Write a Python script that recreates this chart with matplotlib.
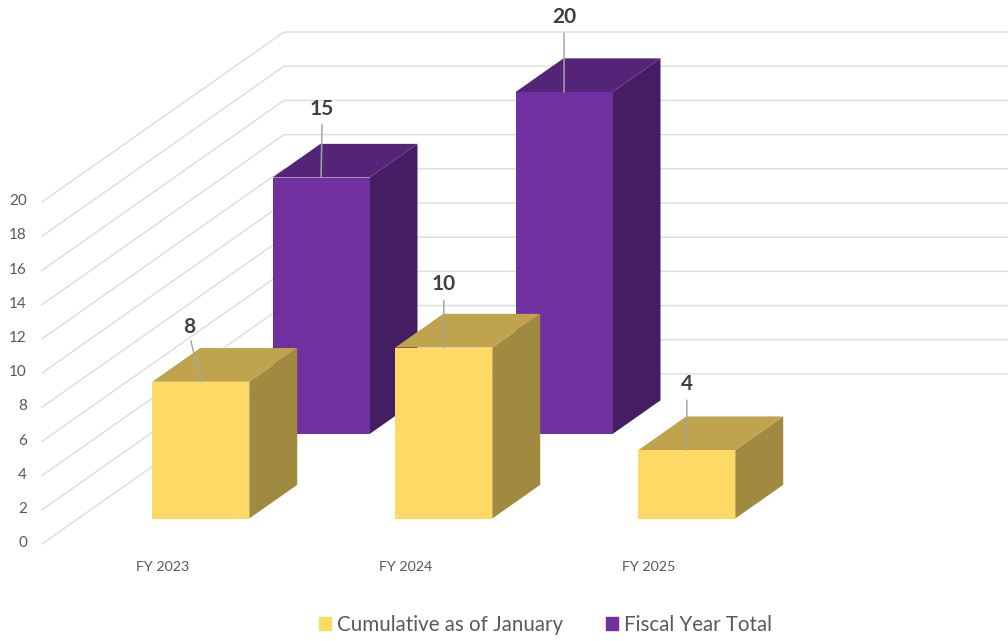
import numpy as np
import matplotlib
matplotlib.use('Agg')
import matplotlib.pyplot as plt
from matplotlib.patches import Patch

plt.rcParams['font.family'] = ['Lato', 'DejaVu Sans']

# data
years = ['FY 2023', 'FY 2024', 'FY 2025']
cumulative = [8, 10, 4]
fiscal_total = [15, 20, None]
value_ticks = np.arange(0, 21, 2)

# layout of the fake 3d box, pixels of the 1008x641 picture
W, H = 1008, 641
px_cat = 243.0    # one category
px_val = 17.1     # one unit of value
x0_px = 164.5     # FY 2023 on the front edge
y0_px = 544.0     # value 0 on the front edge
wall_dx = 242.0
wall_dy = 170.0

DX = wall_dx / px_cat
DY = wall_dy / px_val
bar_w = 97.0 / px_cat

def pr(x, v, z):
	# z = 0 front edge of floor, z = 1 back wall
	return (x + z * DX, v + z * DY)

def draw_bar(ax, i, v, z0, dz, front, top, side, zo):
	l, r = i - bar_w / 2, i + bar_w / 2
	z1 = z0 + dz
	f = [pr(l, 0, z0), pr(r, 0, z0), pr(r, v, z0), pr(l, v, z0)]
	t = [pr(l, v, z0), pr(r, v, z0), pr(r, v, z1), pr(l, v, z1)]
	s = [pr(r, 0, z0), pr(r, 0, z1), pr(r, v, z1), pr(r, v, z0)]
	ax.fill(*zip(*s), color=side, lw=0, zorder=zo)
	ax.fill(*zip(*t), color=top, lw=0, zorder=zo)
	ax.fill(*zip(*f), color=front, lw=0, zorder=zo + 0.1)

def label_bar(ax, i, v, z0, text, tdx, tdy, ldx, ldy):
	# tdx,tdy text offset, ldx,ldy where the leader stops (pixels)
	x, y = pr(i, v, z0)
	ax.annotate('', xy=(x, y), xytext=(ldx, ldy), textcoords='offset pixels',
		arrowprops=dict(arrowstyle='-', color='#a6a6a6', lw=1.1, shrinkA=0, shrinkB=0), zorder=6)
	ax.annotate(text, xy=(x, y), xytext=(tdx, tdy), textcoords='offset pixels',
		ha='center', va='center', fontsize=15, fontweight='bold', color='#404040', zorder=7)

fig = plt.figure(figsize=(W / 100, H / 100), dpi=100)
ax = fig.add_axes([0, 0, 1, 1])
ax.set_xlim(-x0_px / px_cat, (W - x0_px) / px_cat)
ax.set_ylim((y0_px - H) / px_val, y0_px / px_val)
ax.axis('off')

# grid, side wall then back wall
x_left = (42.0 - x0_px) / px_cat
x_right = (W - x0_px) / px_cat
for v in value_ticks:
	p0 = pr(x_left, v, 0)
	p1 = pr(x_left, v, 1)
	ax.plot([p0[0], p1[0], x_right], [p0[1], p1[1], p1[1]], color='#dcdcdc', lw=1.0, zorder=1)
	ax.text(x_left - 15.0 / px_cat, v + 0.7 / px_val, str(v), ha='right', va='center',
		fontsize=11, color='#595959')

for i, name in enumerate(years):
	ax.text(i - 1.5 / px_cat, -23.0 / px_val, name, ha='center', va='center', fontsize=10.3, color='#595959')

# back row first
z_back, z_front, z_depth = 0.647, 0.15, 0.198
back_off = [(1, 69, 1, 53), (0, 75, 0, 59)]
front_off = [(-12, 55, -10, 41), (0, 63, 0, 47), (0, 66, 0, 50)]
for i, v in enumerate(fiscal_total):
	if v is None:
		continue
	draw_bar(ax, i, v, z_back, z_depth, '#7030a0', '#532478', '#451d63', 2)
	label_bar(ax, i, v, z_back, str(v), *back_off[i])
for i, v in enumerate(cumulative):
	draw_bar(ax, i, v, z_front, z_depth, '#ffd966', '#bfa34d', '#a08a40', 3)
	label_bar(ax, i, v, z_front, str(v), *front_off[i])

handles = [Patch(color='#ffd966', label='Cumulative as of January'),
	Patch(color='#7030a0', label='Fiscal Year Total')]
ax.legend(handles=handles, ncol=2, loc='center', bbox_to_anchor=(545.5 / W, 1 - 625.0 / H),
	frameon=False, fontsize=14.8, labelcolor='#595959', handlelength=0.58, handleheight=0.58,
	handletextpad=0.3, columnspacing=2.1)

fig.savefig('out.png', dpi=100, facecolor='white')
